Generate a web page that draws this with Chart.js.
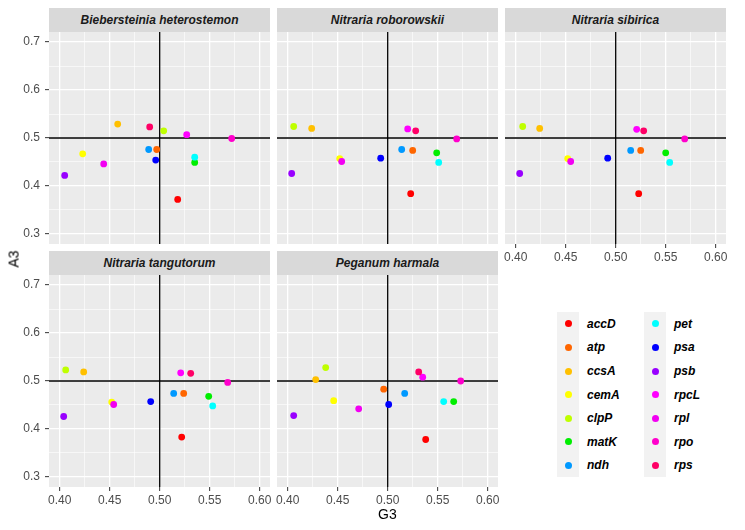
<!DOCTYPE html>
<html>
<head>
<meta charset="utf-8">
<script src="https://cdn.jsdelivr.net/npm/chart.js"></script>
<style>
body { margin: 0; background: #fff; width: 745px; height: 530px; position: relative; overflow: hidden;
       font-family: "Liberation Sans", Arial, sans-serif; }
.strip { position: absolute; background: #D9D9D9; color: #1A1A1A; font-weight: bold; font-style: italic;
         font-size: 12px; text-align: center; height: 24px; line-height: 24px; }
.box { position: absolute; }
.title { position: absolute; font-size: 14px; color: #000; }
.keybg { position: absolute; background: #F2F2F2; }
.dot { position: absolute; border-radius: 50%; width: 7px; height: 7px; }
.lab { position: absolute; font-size: 12px; font-weight: bold; font-style: italic; color: #000; line-height: 14px; }
</style>
</head>
<body>
<script>
(function () {

// ---------------------------------------------------------------- data
var genes = ['accD', 'atp', 'ccsA', 'cemA', 'clpP', 'matK', 'ndh',
             'pet', 'psa', 'psb', 'rpcL', 'rpl', 'rpo', 'rps'];
var geneColors = ['#FF0000', '#FF6600', '#FFC000', '#FFFF00', '#BFFF00', '#00EE00', '#0099FF',
                  '#00FFFF', '#0000FF', '#9900FF', '#FF00FF', '#F200F2', '#FF00CC', '#FF0066'];

var species = ['Biebersteinia heterostemon', 'Nitraria roborowskii', 'Nitraria sibirica',
               'Nitraria tangutorum', 'Peganum harmala'];

var g3Bieb = [0.518, 0.497, 0.458, 0.423, 0.504, 0.535, 0.489, 0.535, 0.496, 0.405, 0.527, 0.444, 0.572, 0.490];
var a3Bieb = [0.372, 0.476, 0.529, 0.467, 0.515, 0.449, 0.476, 0.460, 0.454, 0.422, 0.507, 0.446, 0.499, 0.523];

var g3Robo = [0.523, 0.525, 0.424, 0.452, 0.406, 0.549, 0.514, 0.551, 0.493, 0.404, 0.520, 0.454, 0.569, 0.528];
var a3Robo = [0.384, 0.474, 0.520, 0.457, 0.524, 0.469, 0.476, 0.449, 0.458, 0.426, 0.519, 0.451, 0.498, 0.515];

var g3Sibi = [0.523, 0.525, 0.424, 0.452, 0.407, 0.550, 0.515, 0.554, 0.492, 0.404, 0.521, 0.455, 0.569, 0.528];
var a3Sibi = [0.384, 0.474, 0.520, 0.457, 0.524, 0.469, 0.474, 0.449, 0.458, 0.426, 0.518, 0.451, 0.498, 0.515];

var g3Tang = [0.522, 0.524, 0.424, 0.452, 0.406, 0.549, 0.514, 0.553, 0.491, 0.404, 0.521, 0.454, 0.568, 0.531];
var a3Tang = [0.383, 0.474, 0.519, 0.456, 0.523, 0.468, 0.474, 0.448, 0.457, 0.426, 0.517, 0.451, 0.497, 0.516];

var g3Pega = [0.538, 0.496, 0.428, 0.446, 0.438, 0.566, 0.517, 0.556, 0.501, 0.406, 0.535, 0.471, 0.573, 0.531];
var a3Pega = [0.378, 0.483, 0.503, 0.459, 0.528, 0.457, 0.474, 0.457, 0.451, 0.428, 0.508, 0.442, 0.500, 0.519];

// major ticks are labelled, minor ones only get a thin grid line
var xTicks = [0.400, 0.425, 0.450, 0.475, 0.500, 0.525, 0.550, 0.575, 0.600];
var xMajor = [0.40, 0.45, 0.50, 0.55, 0.60];
var yTicks = [0.30, 0.35, 0.40, 0.45, 0.50, 0.55, 0.60, 0.65, 0.70];
var yMajor = [0.3, 0.4, 0.5, 0.6, 0.7];
var xRange = [0.3893, 0.6103];
var yRange = [0.279, 0.721];

// ---------------------------------------------------------------- layout
var colLeft = [49, 277, 505];
var rowTop = [32, 275];
var PW = 221, PH = 212;

function inList(list, v) {
    return list.some(function (m) { return Math.abs(m - v) < 1e-6; });
}

var panelBg = {
    id: 'panelBg',
    beforeDraw: function (chart) {
        var a = chart.chartArea, ctx = chart.ctx;
        ctx.save();
        ctx.fillStyle = '#EBEBEB';
        ctx.fillRect(a.left, a.top, a.right - a.left, a.bottom - a.top);
        ctx.restore();
    },
    beforeDatasetsDraw: function (chart) {
        var a = chart.chartArea, ctx = chart.ctx;
        var x = chart.scales.x.getPixelForValue(0.5);
        var y = chart.scales.y.getPixelForValue(0.5);
        ctx.save();
        ctx.strokeStyle = '#000';
        ctx.lineWidth = 1.3;
        ctx.beginPath();
        ctx.moveTo(x, a.top); ctx.lineTo(x, a.bottom);
        ctx.moveTo(a.left, y); ctx.lineTo(a.right, y);
        ctx.stroke();
        ctx.restore();
    }
};

function gridOpts(majors, show) {
    return {
        color: '#FFFFFF',
        lineWidth: function (c) { return inList(majors, c.tick.value) ? 1.3 : 0.6; },
        tickColor: function (c) { return inList(majors, c.tick.value) ? '#333333' : 'rgba(0,0,0,0)'; },
        tickLength: 4,
        tickWidth: 1,
        drawTicks: show
    };
}

function makePanel(idx, g3, a3) {
    var col = idx % 3, row = Math.floor(idx / 3);
    var showY = col === 0;
    var showX = row === 1 || col === 2;
    var padL = showY ? 0 : 8, axW = showY ? 49 : 0, axH = showX ? 24 : 0, padB = showX ? 0 : 8;

    var strip = document.createElement('div');
    strip.className = 'strip';
    strip.style.left = colLeft[col] + 'px';
    strip.style.top = (rowTop[row] - 24) + 'px';
    strip.style.width = PW + 'px';
    strip.textContent = species[idx];
    document.body.appendChild(strip);

    var box = document.createElement('div');
    box.className = 'box';
    var w = PW + padL + axW + 8, h = PH + 8 + axH + padB;
    box.style.left = (colLeft[col] - padL - axW) + 'px';
    box.style.top = (rowTop[row] - 8) + 'px';
    var canvas = document.createElement('canvas');
    canvas.width = w; canvas.height = h;
    canvas.style.width = w + 'px'; canvas.style.height = h + 'px';
    box.appendChild(canvas);
    document.body.appendChild(box);

    var pts = g3.map(function (v, i) { return { x: v, y: a3[i] }; });

    new Chart(canvas.getContext('2d'), {
        type: 'scatter',
        data: {
            datasets: [{
                data: pts,
                pointBackgroundColor: geneColors,
                pointBorderWidth: 0,
                pointRadius: 3.4,
                pointHoverRadius: 3.4
            }]
        },
        options: {
            responsive: false,
            animation: false,
            layout: { padding: { left: padL, right: 8, top: 8, bottom: padB } },
            plugins: { legend: { display: false }, tooltip: { enabled: false } },
            scales: {
                x: {
                    type: 'linear', min: xRange[0], max: xRange[1],
                    afterBuildTicks: function (s) { s.ticks = xTicks.map(function (v) { return { value: v }; }); },
                    afterFit: function (s) { s.height = axH; s.paddingLeft = 0; s.paddingRight = 0; },
                    border: { display: false },
                    grid: gridOpts(xMajor, showX),
                    ticks: {
                        display: showX, autoSkip: false, maxRotation: 0, padding: 2,
                        color: '#4D4D4D', font: { size: 12, family: '"Liberation Sans", Arial, sans-serif' },
                        callback: function (v) { return inList(xMajor, v) ? v.toFixed(2) : ''; }
                    }
                },
                y: {
                    type: 'linear', min: yRange[0], max: yRange[1],
                    afterBuildTicks: function (s) { s.ticks = yTicks.map(function (v) { return { value: v }; }); },
                    afterFit: function (s) { s.width = axW; s.paddingTop = 0; s.paddingBottom = 0; },
                    border: { display: false },
                    grid: gridOpts(yMajor, showY),
                    ticks: {
                        display: showY, autoSkip: false, padding: 5,
                        color: '#4D4D4D', font: { size: 12, family: '"Liberation Sans", Arial, sans-serif' },
                        callback: function (v) { return inList(yMajor, v) ? v.toFixed(1) : ''; }
                    }
                }
            }
        },
        plugins: [panelBg]
    });
}

makePanel(0, g3Bieb, a3Bieb);
makePanel(1, g3Robo, a3Robo);
makePanel(2, g3Sibi, a3Sibi);
makePanel(3, g3Tang, a3Tang);
makePanel(4, g3Pega, a3Pega);

// ---------------------------------------------------------------- axis titles
var gt = document.createElement('div');
gt.className = 'title';
gt.textContent = 'G3';
gt.style.left = '378px'; gt.style.top = '506px';
document.body.appendChild(gt);

var at = document.createElement('div');
at.className = 'title';
at.textContent = 'A3';
at.style.left = '5px'; at.style.top = '251px';
at.style.transform = 'rotate(-90deg)';
document.body.appendChild(at);

// ---------------------------------------------------------------- legend
var keyLeft = [557, 644], labLeft = [587, 674], keyTop = 312, rowH = 23.6;
[0, 1].forEach(function (c) {
    var bg = document.createElement('div');
    bg.className = 'keybg';
    bg.style.left = keyLeft[c] + 'px'; bg.style.top = keyTop + 'px';
    bg.style.width = '22px'; bg.style.height = (rowH * 7) + 'px';
    document.body.appendChild(bg);
});
genes.forEach(function (g, i) {
    var c = i < 7 ? 0 : 1, r = i % 7;
    var cy = keyTop + rowH * (r + 0.5);
    var d = document.createElement('div');
    d.className = 'dot';
    d.style.background = geneColors[i];
    d.style.left = (keyLeft[c] + 7.5) + 'px';
    d.style.top = (cy - 3.5) + 'px';
    document.body.appendChild(d);
    var l = document.createElement('div');
    l.className = 'lab';
    l.textContent = g;
    l.style.left = labLeft[c] + 'px';
    l.style.top = (cy - 7) + 'px';
    document.body.appendChild(l);
});

})();
</script>
</body>
</html>
